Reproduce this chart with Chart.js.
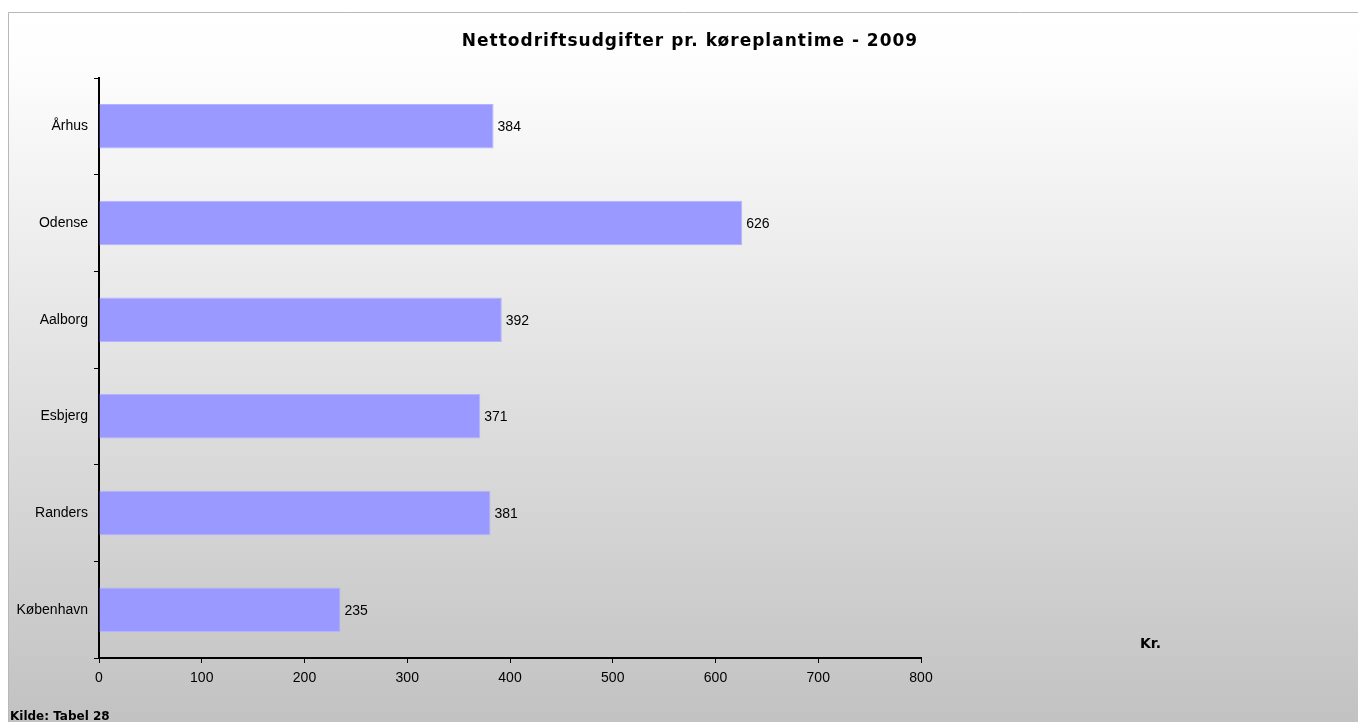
<!DOCTYPE html>
<html>
<head>
<meta charset="utf-8">
<script src="https://cdn.jsdelivr.net/npm/chart.js@4"></script>
<style>
  html, body { margin: 0; padding: 0; background: #fff; overflow: hidden; }
  canvas { display: block; }
</style>
</head>
<body>
<canvas id="myChart" width="1358" height="722"></canvas>
<script>
const cities = ['Århus', 'Odense', 'Aalborg', 'Esbjerg', 'Randers', 'København']
const values = [384, 626, 392, 371, 381, 235]
const xTicks = [0, 100, 200, 300, 400, 500, 600, 700, 800]
const title = 'Nettodriftsudgifter pr. køreplantime - 2009'

const labelFont = '14px "Liberation Sans", Arial, sans-serif'

// gray gradient backdrop with a thin frame
const backdrop = {
  id: 'backdrop',
  beforeDraw(chart) {
    const ctx = chart.ctx
    ctx.save()
    ctx.fillStyle = '#ffffff'
    ctx.fillRect(0, 0, chart.width, chart.height)
    const g = ctx.createLinearGradient(0, 12, 0, chart.height)
    g.addColorStop(0, '#ffffff')
    g.addColorStop(0.08, '#fdfdfd')
    g.addColorStop(1, '#c2c2c2')
    ctx.fillStyle = g
    ctx.fillRect(8, 12, chart.width - 8, chart.height - 12)
    ctx.strokeStyle = '#b8b8b8'
    ctx.lineWidth = 1
    ctx.beginPath()
    ctx.moveTo(8.5, chart.height)
    ctx.lineTo(8.5, 12.5)
    ctx.lineTo(chart.width, 12.5)
    ctx.stroke()
    ctx.restore()
  }
}

// title, value next to each bar, unit and source notes
const notes = {
  id: 'notes',
  afterDatasetsDraw(chart) {
    const ctx = chart.ctx
    ctx.save()
    ctx.fillStyle = '#000'
    ctx.textBaseline = 'middle'

    ctx.font = 'bold 17px "DejaVu Sans", sans-serif'
    ctx.letterSpacing = '1px'
    ctx.textAlign = 'center'
    ctx.fillText(title, 690, 42)
    ctx.letterSpacing = '0px'

    ctx.font = labelFont
    ctx.textAlign = 'left'
    chart.getDatasetMeta(0).data.forEach((bar, i) => {
      ctx.fillText(values[i], bar.x + 4, bar.y + 1)
    })
    ctx.font = 'bold 14px "DejaVu Sans", sans-serif'
    ctx.fillText('Kr.', 1140, 644)
    ctx.font = 'bold 12px "DejaVu Sans", sans-serif'
    ctx.fillText('Kilde: Tabel 28', 10, 717)
    ctx.restore()
  }
}

new Chart('myChart', {
  type: 'bar',
  data: {
    labels: cities,
    datasets: [{
      data: values,
      backgroundColor: '#9999ff',
      borderColor: '#b3b3ff',
      borderWidth: 1,
      categoryPercentage: 1,
      barPercentage: 0.46
    }]
  },
  options: {
    indexAxis: 'y',
    responsive: false,
    maintainAspectRatio: false,
    animation: false,
    devicePixelRatio: 1,
    layout: { padding: { left: 0, right: 437, top: 78, bottom: 0 } },
    plugins: {
      legend: { display: false },
      tooltip: { enabled: false },
      title: { display: false }
    },
    scales: {
      x: {
        min: 0,
        max: 800,
        afterBuildTicks(scale) { scale.ticks = xTicks.map(v => ({ value: v })) },
        afterFit(scale) { scale.height = 64 },
        border: { color: '#000', width: 2 },
        grid: { drawOnChartArea: false, color: '#000', tickLength: 5 },
        ticks: { color: '#000', font: { family: '"Liberation Sans", Arial, sans-serif', size: 14 }, padding: 7, maxRotation: 0 }
      },
      y: {
        afterFit(scale) { scale.width = 99 },
        border: { color: '#000', width: 2 },
        grid: { drawOnChartArea: false, color: '#000', tickLength: 5, offset: true },
        ticks: { color: '#000', font: { family: '"Liberation Sans", Arial, sans-serif', size: 14 }, padding: 6 }
      }
    }
  },
  plugins: [backdrop, notes]
})
</script>
</body>
</html>
